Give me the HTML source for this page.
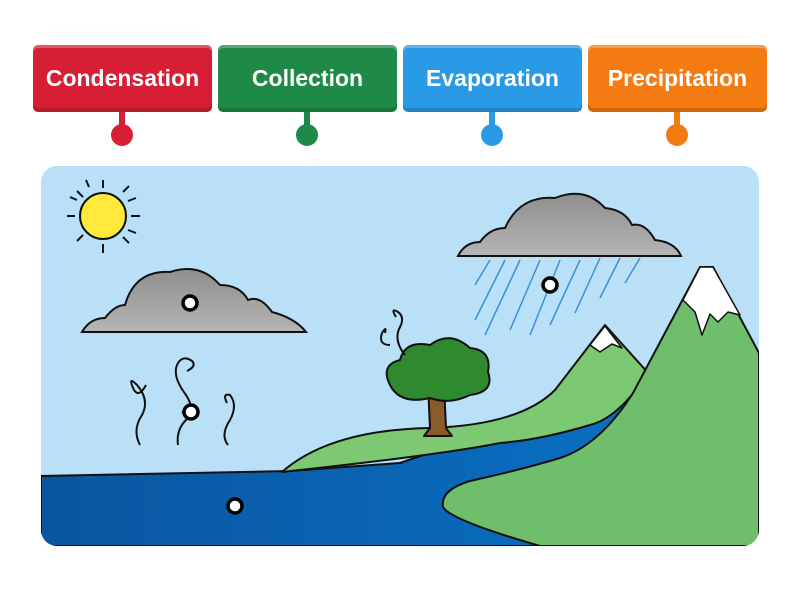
<!DOCTYPE html><html><head><style>body{margin:0;background:#fff;width:800px;height:600px;overflow:hidden;font-family:"Liberation Sans",sans-serif}
.b{position:absolute;top:45px;width:179px;height:67px;border-radius:5px;color:#fff;font-weight:bold;font-size:23px;display:flex;align-items:center;justify-content:center;box-shadow:inset 0 -4px 0 rgba(0,0,0,.15),inset 0 3px 0 rgba(255,255,255,.25)}
.s{position:absolute;top:112px;width:6px;height:16px}.d{position:absolute;top:124px;width:22px;height:22px;border-radius:50%}</style></head><body>
<div class="b" style="left:33px;background:#d61f35">Condensation</div>
<div class="b" style="left:218px;background:#1f8a48">Collection</div>
<div class="b" style="left:403px;background:#2a9ae6">Evaporation</div>
<div class="b" style="left:588px;background:#f47a12">Precipitation</div>
<div class="s" style="left:119px;background:#d61f35"></div><div class="d" style="left:111px;background:#d61f35"></div>
<div class="s" style="left:304px;background:#1f8a48"></div><div class="d" style="left:296px;background:#1f8a48"></div>
<div class="s" style="left:489px;background:#2a9ae6"></div><div class="d" style="left:481px;background:#2a9ae6"></div>
<div class="s" style="left:674px;background:#f47a12"></div><div class="d" style="left:666px;background:#f47a12"></div>
<svg width="800" height="600" style="position:absolute;left:0;top:0">
<defs><clipPath id="c"><rect x="41" y="166" width="718" height="380" rx="16"/></clipPath>
<linearGradient id="cl" x1="0" y1="0" x2="0" y2="1"><stop offset="0" stop-color="#8e8e8e"/><stop offset="1" stop-color="#b5b5b5"/></linearGradient>
<linearGradient id="w" x1="0" y1="0" x2="1" y2="0"><stop offset="0" stop-color="#0a55a0"/><stop offset="1" stop-color="#0a6fc2"/></linearGradient></defs>
<g clip-path="url(#c)" stroke-linejoin="round">
<rect x="41" y="166" width="718" height="380" fill="#bae0f8"/>
<path d="M41 476 L290 471 L400 463 L640 380 L640 546 L41 546Z" fill="url(#w)" stroke="#111" stroke-width="2"/>
<path d="M282 472 Q330 430 430 428 Q520 425 555 390 L605 325 L650 375 L630 397 Q610 420 590 425 Q540 440 500 443 Q440 455 282 472Z" fill="#7dc873" stroke="#111" stroke-width="2"/>
<path d="M590 345 L605 326 L622 348 L612 344 L600 352Z" fill="#fff" stroke="#111" stroke-width="1.5"/>
<path d="M540 546 Q450 520 443 507 Q440 490 470 481 Q520 470 560 458 Q600 445 633 393 L700 267 L713 267 L759 353 L759 546Z" fill="#6fbe6b" stroke="#111" stroke-width="2"/>
<path d="M683 300 L700 267 L713 267 L740 315 L728 312 L718 322 L710 314 L702 335 L695 312Z" fill="#fff" stroke="#111" stroke-width="1.5"/>
<path d="M428 385 L444 385 L446 428 L452 436 L424 436 L430 428Z" fill="#8a5a2b" stroke="#111" stroke-width="2"/>
<path d="M390 385 Q380 365 400 360 Q405 340 430 345 Q450 330 470 348 Q492 350 488 372 Q495 392 470 395 Q450 405 430 398 Q400 405 390 385Z" fill="#2f8a2f" stroke="#111" stroke-width="2"/>
</g>
<g fill="none" stroke="#111" stroke-width="2">
<path d="M490 260 l-15 25 M505 260 l-30 60 M520 260 l-35 75 M540 260 l-30 70 M560 260 l-30 75 M580 260 l-30 65 M600 258 l-25 55 M620 258 l-20 40 M640 258 l-15 25" stroke="#3a8fd6" stroke-width="1.5"/>
<path d="M140 445 q-8 -15 2 -30 q8 -15 -5 -30 q-10 -10 -3 5 q5 8 12 -5 M178 445 q-2 -15 8 -25 q10 -10 0 -25 q-15 -20 -8 -32 q5 -8 14 -2 q5 5 -5 10 M182 413 q5 -5 3 0 M228 445 q-8 -10 2 -25 q8 -15 0 -25 q-8 -2 -3 8 M405 355 q-12 -15 -5 -28 q5 -10 -2 -15 q-8 -5 -2 5 M390 345 q-12 0 -8 -12 q5 -8 3 0"/>
<circle cx="103" cy="216" r="23" fill="#ffe93a"/>
<path d="M103 180 v8 M103 244 v9 M67 216 h8 M131 216 h9 M77 191 l6 6 M123 237 l6 6 M129 186 l-6 6 M77 241 l6 -6 M86 180 l3 7 M128 201 l8 -3 M128 230 l8 3 M70 197 l7 3"/>
<path d="M82 332 Q90 318 105 318 Q115 305 125 305 Q135 270 170 272 Q200 262 220 285 Q240 285 248 300 Q260 295 272 312 Q295 318 306 332Z" fill="url(#cl)"/>
<path d="M458 256 Q465 242 480 242 Q490 228 505 228 Q520 195 555 198 Q585 186 605 208 Q625 210 632 225 Q645 222 655 240 Q675 242 681 256Z" fill="url(#cl)"/>
</g>
<g fill="#fff" stroke="#000" stroke-width="3.5"><circle cx="190" cy="303" r="7"/><circle cx="191" cy="412" r="7"/><circle cx="235" cy="506" r="7"/><circle cx="550" cy="285" r="7"/></g>
</svg></body></html>
